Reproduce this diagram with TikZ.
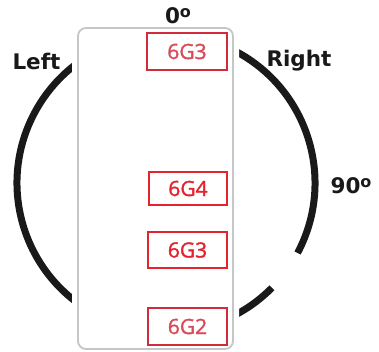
\documentclass[tikz,border=0pt]{standalone}
\usepackage{fontspec}
\newfontfamily\labfont{DejaVu Sans}
\newfontfamily\tagfont{Open Sans}[FakeBold=1.5]
\definecolor{tagred}{HTML}{E3242F}
\definecolor{tagdark}{HTML}{D02C3C}
\definecolor{boxgray}{HTML}{C4C6C8}
\newcommand{\dego}{\raisebox{6.5pt}{\fontsize{16}{16}\selectfont o}}
\tikzset{
  lab/.style={font=\labfont\bfseries\fontsize{21.5}{24}\selectfont, text=black!90, inner sep=0pt},
  tagbox/.style={draw=tagred, line width=2.4pt, fill=white, text=tagred, inner sep=0pt,
    font=\tagfont\fontsize{21}{24}\selectfont},
  ring/.style={line width=7pt, black!90}
}
\begin{document}
\begin{tikzpicture}[x=1pt,y=1pt]
\useasboundingbox (0,0) rectangle (379,351);
\coordinate (c) at (166,168);
% ring with gap on lower right
\draw[ring] ([shift={(-28:149)}]c) arc[start angle=-28, end angle=315.3, radius=149];
% tray box with white margin
\draw[white, line width=12pt, fill=white, rounded corners=8pt] (78,2) rectangle (233,323);
\draw[boxgray, line width=1.8pt, rounded corners=8pt] (78,2) rectangle (233,323);
% tags
\node[tagbox, draw=tagdark, text=tagdark!85, minimum width=80pt, minimum height=37pt] (t1) at (187,299.5) {6G3};
\node[tagbox, minimum width=78pt, minimum height=33pt] (t2) at (188,162.5) {6G4};
\node[tagbox, minimum width=79pt, minimum height=36pt] (t3) at (187.5,101) {6G3};
\node[tagbox, draw=tagdark, text=tagdark!85, minimum width=79pt, minimum height=37pt] (t4) at (187.5,24.5) {6G2};
% labels
\node[lab] (zero) at (178,335) {0\dego};
\node[lab] (left) at (36.5,290) {Left};
\node[lab] (right) at (299,290) {Right};
\node[lab] (ninety) at (351,165) {90\dego};
\end{tikzpicture}
\end{document}
